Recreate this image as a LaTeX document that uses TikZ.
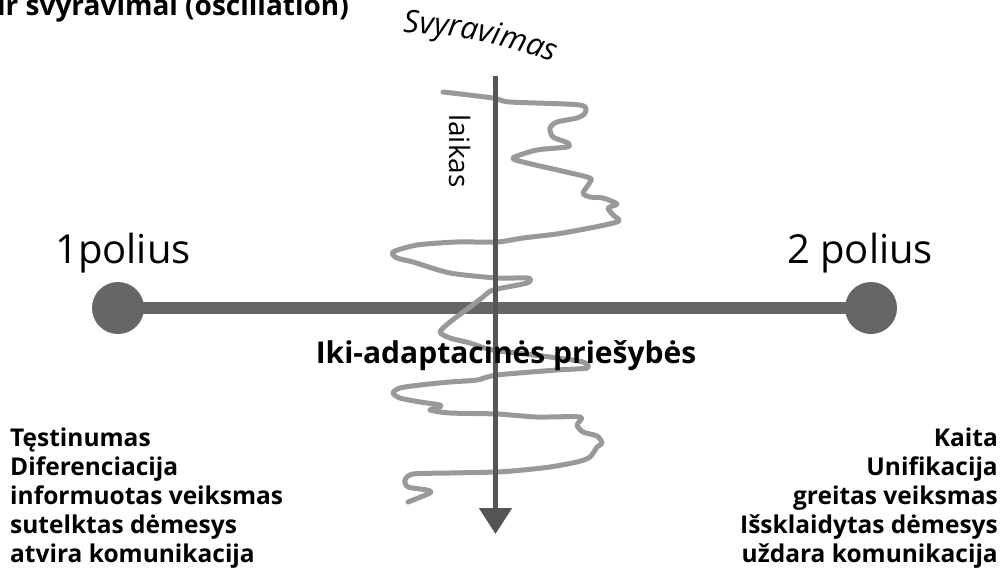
\documentclass[tikz,border=0pt]{standalone}
\usepackage{fontspec}
\setmainfont{Open Sans}
\usetikzlibrary{arrows.meta,decorations.text}
\definecolor{axisgrey}{HTML}{666666}
\definecolor{arrowgrey}{HTML}{555555}
\definecolor{wiggle}{HTML}{999999}
\tikzset{
  pole/.style={circle,fill=axisgrey,minimum size=52pt,inner sep=0pt},
  polelabel/.style={font=\fontsize{40}{48}\selectfont,inner sep=0pt,anchor=base west},
  boldtxt/.style={font=\bfseries\fontsize{24.5}{29}\selectfont,inner sep=0pt},
}
\begin{document}
\begin{tikzpicture}[x=1pt,y=-1pt]
\useasboundingbox (0,0) rectangle (1008,583);
% title (cut off)
\node[font=\bfseries\fontsize{28}{33}\selectfont,inner sep=0pt,anchor=base west] (title) at (-3,16) {ir svyravimai (osciliation)};
% horizontal axis
\node[pole] (p1) at (118,308) {};
\node[pole] (p2) at (871,308) {};
\draw[axisgrey,line width=12pt] (p1.center) -- (p2.center);
% wiggle
\draw[wiggle,line width=5pt,line join=round,line cap=round] plot[smooth,tension=0.45] coordinates {
(443,92) (493,98) (510,102) (580,105) (585,113) (577,118) (557,122) (550,128) (553,137) (568,143) (567,147) (537,150) (513,158) (527,163) (587,177) (590,182) (583,193) (590,197) (603,198) (617,204) (608,208) (613,215) (617,222) (563,233) (523,238) (497,242) (457,242) (417,245) (393,252) (397,258) (413,262) (450,273) (497,278) (528,278) (527,283) (493,290) (483,297) (470,307) (450,322) (440,332) (450,338) (470,343) (493,350) (550,357) (583,362) (587,368) (557,370) (497,375) (477,380) (450,382) (420,385) (400,388) (393,393) (400,398) (420,402) (440,405) (438,408) (430,410) (450,413) (497,414) (537,417) (580,417) (577,425) (583,432) (597,436) (602,443) (597,447) (590,457) (577,462) (550,467) (523,470) (497,472) (450,473) (413,474) (405,480) (408,487) (427,490) (430,493) (408,502)};
% vertical axis
\coordinate (vtop) at (495.5,76);
\coordinate (vbot) at (495.5,534);
\draw[arrowgrey,line width=5pt,-{Triangle[width=32pt,length=26pt]}] (vtop) -- (vbot);
% labels
\node[polelabel] (l1) at (55,263) {1polius};
\node[polelabel] (l2) at (787,263) {2 polius};
\node[font=\fontsize{28}{34}\selectfont,rotate=-90,inner sep=0pt] (laikas) at (460,151) {laikas};
\path[decorate,decoration={text along path,text align=center,
  text={|\itshape\fontsize{31}{36}\selectfont|Svyravimas}}]
  (392,33) .. controls (450,31) and (512,46) .. (564,66);
\node[boldtxt,font=\bfseries\fontsize{30}{36}\selectfont,anchor=base] (mid) at (506,363) {Iki-adaptacinės priešybės};
\node[boldtxt,anchor=north west,align=left] (left) at (10,428) {Tęstinumas\\Diferenciacija\\informuotas veiksmas\\sutelktas dėmesys\\atvira komunikacija};
\node[boldtxt,anchor=north east,align=right] (right) at (998,428) {Kaita\\Unifikacija\\greitas veiksmas\\Išsklaidytas dėmesys\\uždara komunikacija};
\end{tikzpicture}
\end{document}
